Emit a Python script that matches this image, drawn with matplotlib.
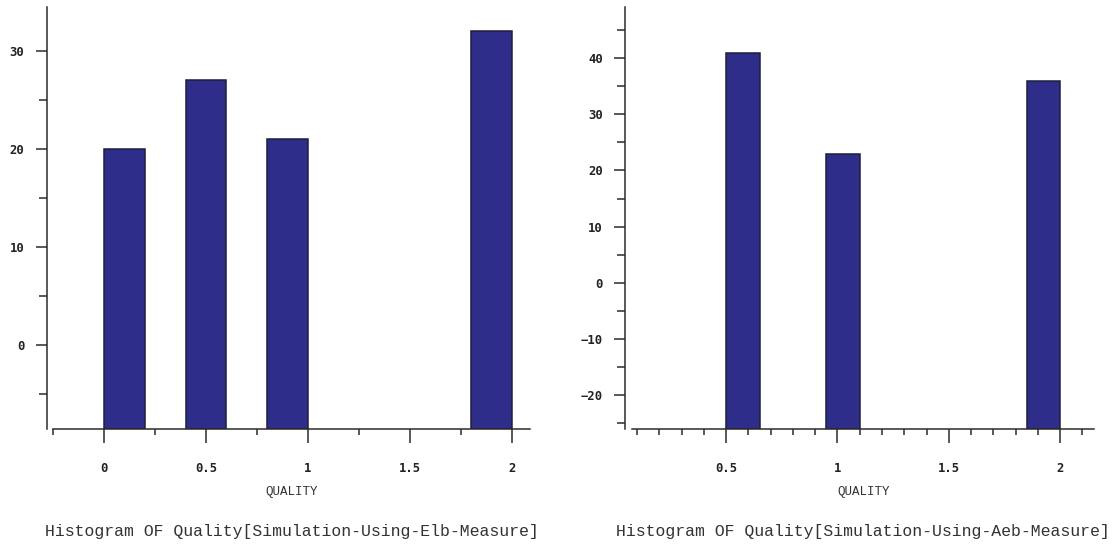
import numpy as np
import matplotlib
matplotlib.use('Agg')
import matplotlib.pyplot as plt
from matplotlib.ticker import MultipleLocator

# histogram data
elb_bin_left = [0.0, 0.4, 0.8, 1.8]
elb_counts = [20, 27, 21, 32]
elb_bin_width = 0.2
elb_title = 'Histogram OF Quality[Simulation-Using-Elb-Measure]'

aeb_bin_left = [0.5, 0.95, 1.85]
aeb_counts = [41, 23, 36]
aeb_bin_width = 0.15
aeb_title = 'Histogram OF Quality[Simulation-Using-Aeb-Measure]'

xlabel = 'QUALITY'

barcolor = '#2E2E8A'
edgecolor = '#1E1E3C'
axcolor = '#2B2B2B'
textcolor = '#333333'


def histpanel(ax, lefts, counts, width, xlim, ylim, xmajor, xminor, yout, title):

    ymin = ylim[0]
    heights = np.array(counts, dtype=float) - ymin
    ax.bar(lefts, heights, width=width, bottom=ymin, align='edge',
           color=barcolor, edgecolor=edgecolor, linewidth=1.1, zorder=2)

    ax.set_xlim(xlim)
    ax.set_ylim(ylim)

    for s in ['top', 'right']:
        ax.spines[s].set_visible(False)
    for s in ['left', 'bottom']:
        ax.spines[s].set_color(axcolor)
        ax.spines[s].set_linewidth(1.1)
        ax.spines[s].set_zorder(3)
    ax.spines['left'].set_position(('outward', yout))

    ax.xaxis.set_major_locator(MultipleLocator(xmajor))
    ax.xaxis.set_minor_locator(MultipleLocator(xminor))
    ax.yaxis.set_major_locator(MultipleLocator(10))
    ax.yaxis.set_minor_locator(MultipleLocator(5))

    ax.xaxis.set_major_formatter(matplotlib.ticker.FuncFormatter(lambda v, p: ('%g' % v)))

    ax.tick_params(axis='x', which='major', direction='out', length=10, width=1.1,
                   color=axcolor, pad=14)
    ax.tick_params(axis='x', which='minor', direction='out', length=4, width=1.1,
                   color=axcolor)
    ax.tick_params(axis='y', which='major', direction='out', length=8, width=1.1,
                   color=axcolor, pad=8)
    ax.tick_params(axis='y', which='minor', direction='out', length=5.5, width=1.1,
                   color=axcolor)

    for lab in ax.get_xticklabels() + ax.get_yticklabels():
        lab.set_fontfamily('DejaVu Sans Mono')
        lab.set_fontweight('bold')
        lab.set_fontsize(8.8)
        lab.set_color('#222222')

    ax.set_xlabel(xlabel, family='Liberation Mono', fontsize=9, color=textcolor, labelpad=8)
    ax.text(0.5, -0.243, title, transform=ax.transAxes, ha='center', va='center',
            family='Liberation Mono', fontsize=11.85, color=textcolor)


fig = plt.figure(figsize=(11.12, 5.45), dpi=100)

ax1 = fig.add_axes([53.3 / 1112, 116 / 545, (530 - 53.3) / 1112, (429 - 7.3) / 545])
histpanel(ax1, elb_bin_left, elb_counts, elb_bin_width,
          xlim=(-0.25, 2.09), ylim=(-8.57, 34.46), xmajor=0.5, xminor=0.25,
          yout=4.8, title=elb_title)

ax2 = fig.add_axes([632.3 / 1112, 116 / 545, (1094.3 - 632.3) / 1112, (429 - 7.3) / 545])
histpanel(ax2, aeb_bin_left, aeb_counts, aeb_bin_width,
          xlim=(0.078, 2.154), ylim=(-26.1, 49.1), xmajor=0.5, xminor=0.1,
          yout=5.3, title=aeb_title)

fig.savefig('out.png', dpi=100)
